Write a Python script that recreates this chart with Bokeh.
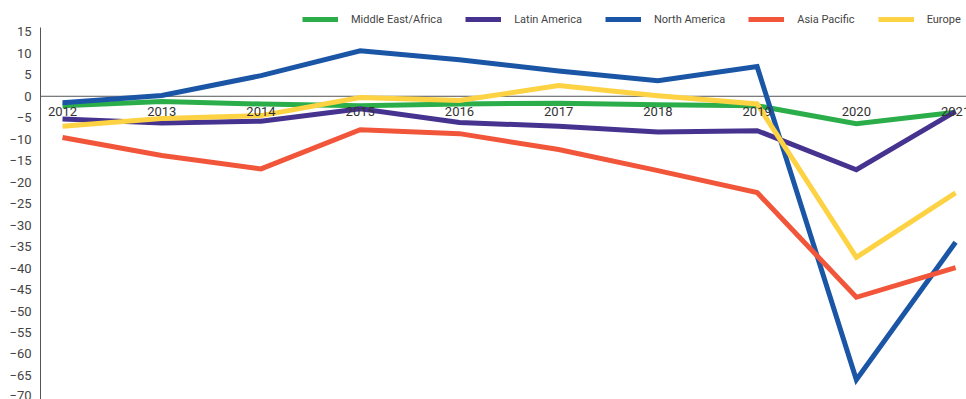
from bokeh.plotting import figure
from bokeh.models import Span, FixedTicker, Legend, LegendItem, Range1d
from bokeh.core.properties import value
from bokeh.embed import file_html
from bokeh.resources import INLINE

years = [2012, 2013, 2014, 2015, 2016, 2017, 2018, 2019, 2020, 2021]
year_labels = [str(y) for y in years]
middle_east_africa = [-2.2, -1.2, -1.8, -2.2, -1.8, -1.6, -2.0, -2.2, -6.4, -3.7]
latin_america = [-5.3, -6.2, -5.8, -2.9, -6.1, -7.0, -8.3, -8.0, -17.1, -3.5]
north_america = [-1.5, 0.2, 4.8, 10.6, 8.5, 5.9, 3.6, 6.9, -66.0, -34.0]
asia_pacific = [-9.6, -13.8, -16.9, -7.8, -8.7, -12.4, -17.3, -22.4, -46.8, -39.9]
europe = [-7.0, -5.2, -4.5, -0.3, -1.0, 2.5, 0.1, -1.8, -37.5, -22.5]
y_ticks = list(range(-70, 20, 5))

series = [
    ("Middle East/Africa", middle_east_africa, "#2bae4a"),
    ("Latin America", latin_america, "#46338f"),
    ("North America", north_america, "#1b56a6"),
    ("Asia Pacific", asia_pacific, "#f2563a"),
    ("Europe", europe, "#fdd243"),
]

FONT = "Roboto"

p = figure(width=966, height=399, output_backend="svg", toolbar_location=None,
           x_range=Range1d(2011.778, 2021.11), y_range=Range1d(-70.6, 22.3),
           min_border_left=40, min_border_right=0, min_border_top=0,
           min_border_bottom=0)
p.outline_line_color = None
p.xgrid.visible = False
p.ygrid.visible = False
p.xaxis.visible = False
p.background_fill_color = "white"

ya = p.yaxis[0]
ya.ticker = FixedTicker(ticks=y_ticks)
ya.bounds = (-70.6, 16)
ya.major_tick_in = 0
ya.major_tick_out = 0
ya.minor_tick_in = 0
ya.minor_tick_out = 0
ya.axis_line_color = "#555555"
ya.axis_line_width = 1
ya.major_label_standoff = 9
ya.major_label_text_font = FONT
ya.major_label_text_font_size = "13px"
ya.major_label_text_color = "#444444"

zero = Span(location=0, dimension="width", line_color="#555555", line_width=1,
            level="underlay")
p.add_layout(zero)

items = []
for name, vals, color in series:
    r = p.line(years, vals, line_color=color, line_width=5, line_join="miter")
    items.append(LegendItem(label=name, renderers=[r]))

p.text(x=years, y=[0] * len(years), text=year_labels,
       text_font=value(FONT), text_font_size="13px", text_color="#333333",
       text_align="center", text_baseline="middle", y_offset=15)

legend = Legend(items=items, orientation="horizontal", location=(262, 372),
                glyph_width=36, glyph_height=16, label_height=16,
                label_standoff=13, spacing=23, padding=0, margin=0,
                border_line_color=None, background_fill_alpha=0,
                label_text_font=FONT, label_text_font_size="11px",
                label_text_color="#444444")
p.add_layout(legend)

open("out.html", "w").write(file_html(p, INLINE))
